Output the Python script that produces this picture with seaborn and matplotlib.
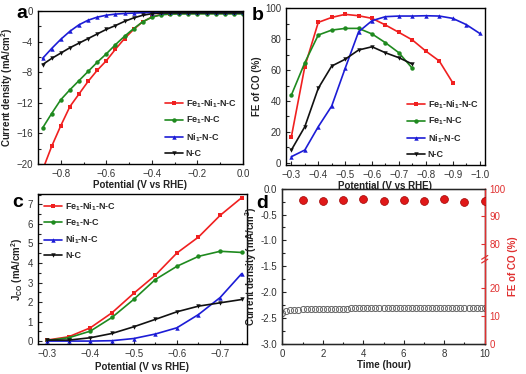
import numpy as np
import pandas as pd
import seaborn as sns
import matplotlib
matplotlib.use("Agg")
import matplotlib.pyplot as plt
from matplotlib.ticker import AutoMinorLocator, FixedLocator

# ---- panel a: LSV curves ----
pot_a = [-0.88, -0.84, -0.80, -0.76, -0.72, -0.68, -0.64, -0.60, -0.56, -0.52, -0.48, -0.44,
         -0.40, -0.36, -0.32, -0.28, -0.24, -0.20, -0.16, -0.12, -0.08, -0.04, 0.00]
j_feni = [-20.8, -17.7, -15.0, -12.5, -10.85, -9.2, -7.75, -6.5, -5.0, -3.6, -2.4, -1.4,
          -0.8, -0.45, -0.35, -0.3, -0.3, -0.3, -0.3, -0.3, -0.3, -0.3, -0.3]
j_fe = [-15.3, -13.4, -11.6, -10.3, -9.1, -7.9, -6.7, -5.6, -4.4, -3.3, -2.3, -1.4,
        -0.8, -0.5, -0.4, -0.38, -0.38, -0.37, -0.37, -0.37, -0.37, -0.37, -0.37]
j_ni = [-6.2, -4.9, -3.7, -2.65, -1.8, -1.2, -0.8, -0.55, -0.4, -0.32, -0.27, -0.22,
        -0.2, -0.18, -0.17, -0.16, -0.15, -0.15, -0.15, -0.15, -0.15, -0.15, -0.15]
j_nc = [-7.0, -6.2, -5.5, -4.8, -4.2, -3.6, -3.0, -2.4, -1.9, -1.35, -0.9, -0.55,
        -0.35, -0.27, -0.25, -0.25, -0.25, -0.25, -0.25, -0.25, -0.25, -0.25, -0.25]

# ---- panel b: FE of CO ----
pot_b = [-0.30, -0.35, -0.40, -0.45, -0.50, -0.55, -0.60, -0.65, -0.70, -0.75, -0.80, -0.85, -0.90, -0.95, -1.00]
fe_feni = [16.8, 62.2, 90.9, 94.1, 96.1, 95.2, 93.5, 89.2, 84.4, 79.5, 72.3, 65.9, 51.8]
fe_fe = [43.8, 64.8, 82.7, 85.9, 87.0, 87.0, 83.4, 77.7, 71.2, 61.1]
fe_ni = [3.9, 8.2, 23.3, 36.7, 61.1, 84.8, 92.0, 94.6, 95.0, 95.0, 95.2, 95.0, 93.5, 89.5, 83.8]
fe_nc = [8.2, 23.3, 48.2, 62.6, 67.0, 73.0, 75.1, 71.2, 68.0, 63.9]

# ---- panel c: partial current density of CO ----
pot_c = [-0.30, -0.35, -0.40, -0.45, -0.50, -0.55, -0.60, -0.65, -0.70, -0.75]
jco_feni = [0.05, 0.22, 0.68, 1.45, 2.44, 3.37, 4.51, 5.33, 6.44, 7.35]
jco_fe = [0.03, 0.17, 0.51, 1.21, 2.13, 3.15, 3.83, 4.34, 4.60, 4.54]
jco_ni = [0.0, 0.0, 0.0, 0.02, 0.13, 0.36, 0.68, 1.36, 2.23, 3.46]
jco_nc = [0.05, 0.05, 0.17, 0.39, 0.73, 1.11, 1.50, 1.79, 1.96, 2.13]

# ---- panel d: stability ----
time_h = [0.0, 0.2, 0.4, 0.6, 0.8, 1.0, 1.2, 1.4, 1.6, 1.8, 2.0, 2.2, 2.4, 2.6, 2.8, 3.0, 3.2,
          3.4, 3.6, 3.8, 4.0, 4.2, 4.4, 4.6, 4.8, 5.0, 5.2, 5.4, 5.6, 5.8, 6.0, 6.2, 6.4, 6.6,
          6.8, 7.0, 7.2, 7.4, 7.6, 7.8, 8.0, 8.2, 8.4, 8.6, 8.8, 9.0, 9.2, 9.4, 9.6, 9.8, 10.0]
j_time = [-2.40, -2.37, -2.355, -2.345, -2.34, -2.335, -2.332, -2.33, -2.328, -2.326, -2.325,
          -2.324, -2.323, -2.322, -2.321, -2.32, -2.319, -2.318, -2.318, -2.317, -2.316, -2.316,
          -2.315, -2.314, -2.314, -2.313, -2.313, -2.312, -2.312, -2.311, -2.311, -2.31, -2.31,
          -2.309, -2.309, -2.308, -2.308, -2.307, -2.307, -2.306, -2.306, -2.305, -2.305, -2.305,
          -2.304, -2.304, -2.303, -2.303, -2.302, -2.302, -2.302]
fe_hours = [1, 2, 3, 4, 5, 6, 7, 8, 9, 10]
fe_time = [96.1, 95.5, 95.9, 96.3, 95.5, 96.0, 95.7, 96.3, 95.25, 95.7]

names = ["Fe$_1$-Ni$_1$-N-C", "Fe$_1$-N-C", "Ni$_1$-N-C", "N-C"]
colors = dict(zip(names, ["#f02020", "#1f8a1f", "#1c1cd6", "#111111"]))
marks = dict(zip(names, ["s", "o", "^", "v"]))


def long_df(x, series):
    rows = []
    for name, vals in zip(names, series):
        for xi, yi in zip(x, vals):
            rows.append((name, xi, yi))
    return pd.DataFrame(rows, columns=["sample", "pot", "val"])


def style_axes(ax):
    ax.tick_params(direction="in", which="both", top=False, right=False,
                   labelsize=7, labelcolor="#333333", length=3, width=0.8)
    ax.tick_params(which="minor", length=1.8)
    ax.xaxis.set_minor_locator(AutoMinorLocator(2))
    ax.yaxis.set_minor_locator(AutoMinorLocator(2))
    for s in ax.spines.values():
        s.set_linewidth(1.0)
        s.set_color("black")


def draw(ax, df, legend_loc):
    sns.lineplot(data=df, x="pot", y="val", hue="sample", style="sample",
                 palette=colors, markers=marks, dashes=False, hue_order=names,
                 style_order=names, sort=False, linewidth=1.2, markersize=3.2,
                 markeredgewidth=0, ax=ax)
    leg = ax.legend(loc=legend_loc, frameon=False, fontsize=6.5, handlelength=2.0,
                    handletextpad=0.3, labelspacing=0.55, borderaxespad=0.3)
    for t in leg.get_texts():
        t.set_fontweight("bold")


sns.set_style("ticks")
plt.rcParams["font.family"] = ["Liberation Sans", "DejaVu Sans"]
plt.rcParams["mathtext.default"] = "regular"

fig = plt.figure(figsize=(5.26, 3.74), dpi=100)
ax_a = fig.add_axes([0.0722, 0.5615, 0.3897, 0.409])
ax_b = fig.add_axes([0.5437, 0.5588, 0.3783, 0.421])
ax_c = fig.add_axes([0.0722, 0.0802, 0.3973, 0.4019])
ax_d = fig.add_axes([0.5367, 0.0810, 0.3848, 0.4144])

lab = dict(fontsize=7, fontweight="bold", color="#222222")

# a
draw(ax_a, long_df(pot_a, [j_feni, j_fe, j_ni, j_nc]), "lower right")
ax_a.set_xlim(-0.9, 0.0)
ax_a.set_ylim(-20, 0)
ax_a.set_xticks([-0.8, -0.6, -0.4, -0.2, 0.0])
ax_a.set_yticks([0, -4, -8, -12, -16, -20])
ax_a.set_xlabel("Potential (V vs RHE)", labelpad=1, **lab)
ax_a.set_ylabel("Current density (mA/cm$^2$)", labelpad=1, **lab)
style_axes(ax_a)

# b
draw(ax_b, pd.concat([long_df(pot_b[:len(fe_feni)], [fe_feni, [], [], []]),
                      long_df(pot_b[:len(fe_fe)], [[], fe_fe, [], []]),
                      long_df(pot_b, [[], [], fe_ni, []]),
                      long_df(pot_b[:len(fe_nc)], [[], [], [], fe_nc])]), "lower right")
ax_b.set_xlim(-0.28, -1.02)
ax_b.set_ylim(-1.5, 100.5)
ax_b.set_xticks([-0.3, -0.4, -0.5, -0.6, -0.7, -0.8, -0.9, -1.0])
ax_b.set_yticks([0, 20, 40, 60, 80, 100])
ax_b.set_xlabel("Potential (V vs RHE)", labelpad=1, **lab)
ax_b.set_ylabel("FE of CO (%)", labelpad=2, **lab)
style_axes(ax_b)

# c
draw(ax_c, long_df(pot_c, [jco_feni, jco_fe, jco_ni, jco_nc]), "upper left")
ax_c.set_xlim(-0.279, -0.762)
ax_c.set_ylim(-0.15, 7.55)
ax_c.set_xticks([-0.3, -0.4, -0.5, -0.6, -0.7])
ax_c.set_yticks(range(0, 8))
ax_c.set_xlabel("Potential (V vs RHE)", labelpad=2, **lab)
ax_c.set_ylabel("J$_{CO}$ (mA/cm$^2$)", labelpad=2, **lab)
style_axes(ax_c)

# d
sns.lineplot(x=time_h, y=j_time, ax=ax_d, linestyle="none", marker="o",
             markersize=4.4, markerfacecolor="none", markeredgecolor="#666666",
             markeredgewidth=0.7)
ax_d.set_xlim(0, 10)
ax_d.set_ylim(-3.0, 0.0)
ax_d.set_xticks([0, 2, 4, 6, 8, 10])
ax_d.set_yticks([0.0, -0.5, -1.0, -1.5, -2.0, -2.5, -3.0])
ax_d.set_yticklabels(["0.0", "-0.5", "-1.0", "-1.5", "-2.0", "-2.5", "-3.0"])
ax_d.set_xlabel("Time (hour)", labelpad=1, **lab)
ax_d.set_ylabel("Current density (mA/cm$^2$)", labelpad=1, **lab)
style_axes(ax_d)

ax_r = ax_d.twinx()


def fwd(y):
    y = np.asarray(y, dtype=float)
    return np.where(y < 30, y, np.where(y > 76, y - 44, 30 + (y - 30) * (2 / 46)))


def inv(u):
    u = np.asarray(u, dtype=float)
    return np.where(u < 30, u, np.where(u > 32, u + 44, 30 + (u - 30) * 23))


ax_r.set_yscale("function", functions=(fwd, inv))
ax_r.set_ylim(0, 100)
sns.scatterplot(x=fe_hours, y=fe_time, ax=ax_r, s=32, color="#e01818",
                edgecolor="#a00000", linewidth=0.5, zorder=5)
ax_r.yaxis.set_major_locator(FixedLocator([0, 10, 20, 80, 90, 100]))
ax_r.yaxis.set_minor_locator(FixedLocator([]))
ax_r.set_yticklabels(["0", "10", "20", "80", "90", "100"])
ax_r.tick_params(axis="y", direction="in", colors="#e03030", labelsize=7, length=3, width=0.8)
ax_r.spines["right"].set_color("#e03030")
ax_r.spines["right"].set_linewidth(1.0)
ax_r.set_ylabel("FE of CO (%)", fontsize=7, fontweight="bold", color="#e03030", labelpad=2)
for dy in (-0.012, 0.012):
    ax_r.plot([0.985, 1.015], [0.545 + dy - 0.012, 0.545 + dy + 0.012],
              transform=ax_r.transAxes, color="#e03030", lw=0.9, clip_on=False)

# panel letters, placed in figure pixels (top-left origin)
for letter, px, py in [("a", 22, 5), ("b", 258, 7), ("c", 18, 194), ("d", 262, 195)]:
    fig.text(px / 526, 1 - py / 374, letter, fontsize=14, fontweight="bold",
             ha="center", va="top", color="black")

fig.savefig("out.png", dpi=100)
